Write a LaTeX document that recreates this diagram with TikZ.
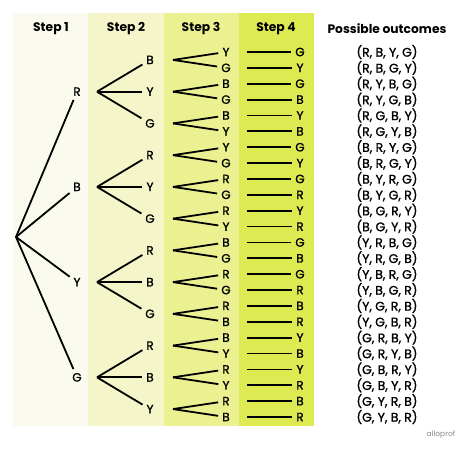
\documentclass[tikz,border=0pt]{standalone}
\usepackage{fontspec}
\setmainfont{Poppins}
\newfontfamily\medfont[FakeBold=1.2]{Poppins}
\definecolor{colA}{HTML}{FAFAEF}
\definecolor{colB}{HTML}{F5F5CA}
\definecolor{colC}{HTML}{EBF190}
\definecolor{colD}{HTML}{DEEA52}
\definecolor{logo}{HTML}{8A8A8A}
\begin{document}
\begin{tikzpicture}[x=1pt,y=-1pt,
  lbl/.style={font=\medfont\fontsize{12}{13}\selectfont, inner sep=2pt},
  hdr/.style={font=\bfseries\fontsize{12.3}{14}\selectfont},
  outc/.style={font=\medfont\fontsize{12.5}{13}\selectfont},
  branch/.style={draw=black, line width=1.8pt, shorten >=2pt}
]
\useasboundingbox (0,0) rectangle (474,458);
\fill[colA] (13,13) rectangle (88,426);
\fill[colB] (88,13) rectangle (164,426);
\fill[colC] (164,13) rectangle (239,426);
\fill[colD] (239,13) rectangle (314,426);
\node[hdr] (h1) at (51,29) {Step 1};
\node[hdr] (h2) at (126,29) {Step 2};
\node[hdr] (h3) at (201,29) {Step 3};
\node[hdr] (h4) at (276,29) {Step 4};
\node[hdr] (h5) at (387,29) {Possible outcomes};
% root
\coordinate (root) at (16,237);
% step 1
\foreach \a [count=\k from 0] in {R,B,Y,G} {
  \node[lbl] (s1-\k) at (77,{52+15.87*(6*\k+2.5)}) {\a};
  \draw[branch] (root) -- (s1-\k);
  \coordinate (ap2-\k) at (97,{52+15.87*(6*\k+2.5)});
}
% step 2
\foreach \a [count=\m from 0] in {B,Y,G,R,Y,G,R,B,G,R,B,Y} {
  \pgfmathtruncatemacro{\g}{floor(\m/3)}
  \node[lbl] (s2-\m) at (150,{52+15.87*(2*\m+0.5)}) {\a};
  \draw[branch] (ap2-\g) -- (s2-\m);
  \coordinate (ap3-\m) at (173,{52+15.87*(2*\m+0.5)});
}
% step 3
\foreach \a [count=\r from 0] in {Y,G,B,G,B,Y,Y,G,R,G,R,Y,B,G,R,G,R,B,B,Y,R,Y,R,B} {
  \pgfmathtruncatemacro{\p}{floor(\r/2)}
  \node[lbl] (s3-\r) at (226,{52+15.87*\r}) {\a};
  \draw[branch] (ap3-\p) -- (s3-\r);
}
% step 4
\foreach \a [count=\r from 0] in {G,Y,G,B,Y,B,G,Y,G,R,Y,R,G,B,G,R,B,R,Y,B,Y,R,B,R} {
  \node[lbl] (s4-\r) at (300,{52+15.87*\r}) {\a};
  \coordinate (l4-\r) at (247,{52+15.87*\r});
  \draw[branch] (l4-\r) -- (s4-\r);
}
% outcomes
\foreach \o [count=\r from 0] in {
  {(R, B, Y, G)},{(R, B, G, Y)},{(R, Y, B, G)},{(R, Y, G, B)},{(R, G, B, Y)},{(R, G, Y, B)},
  {(B, R, Y, G)},{(B, R, G, Y)},{(B, Y, R, G)},{(B, Y, G, R)},{(B, G, R, Y)},{(B, G, Y, R)},
  {(Y, R, B, G)},{(Y, R, G, B)},{(Y, B, R, G)},{(Y, B, G, R)},{(Y, G, R, B)},{(Y, G, B, R)},
  {(G, R, B, Y)},{(G, R, Y, B)},{(G, B, R, Y)},{(G, B, Y, R)},{(G, Y, R, B)},{(G, Y, B, R)}} {
  \node[outc] (o-\r) at (387,{52+15.87*\r}) {\o};
}
\node[text=logo, font=\fontsize{7.5}{8}\selectfont] (logo) at (441,435) {alloprof};
\end{tikzpicture}
\end{document}
